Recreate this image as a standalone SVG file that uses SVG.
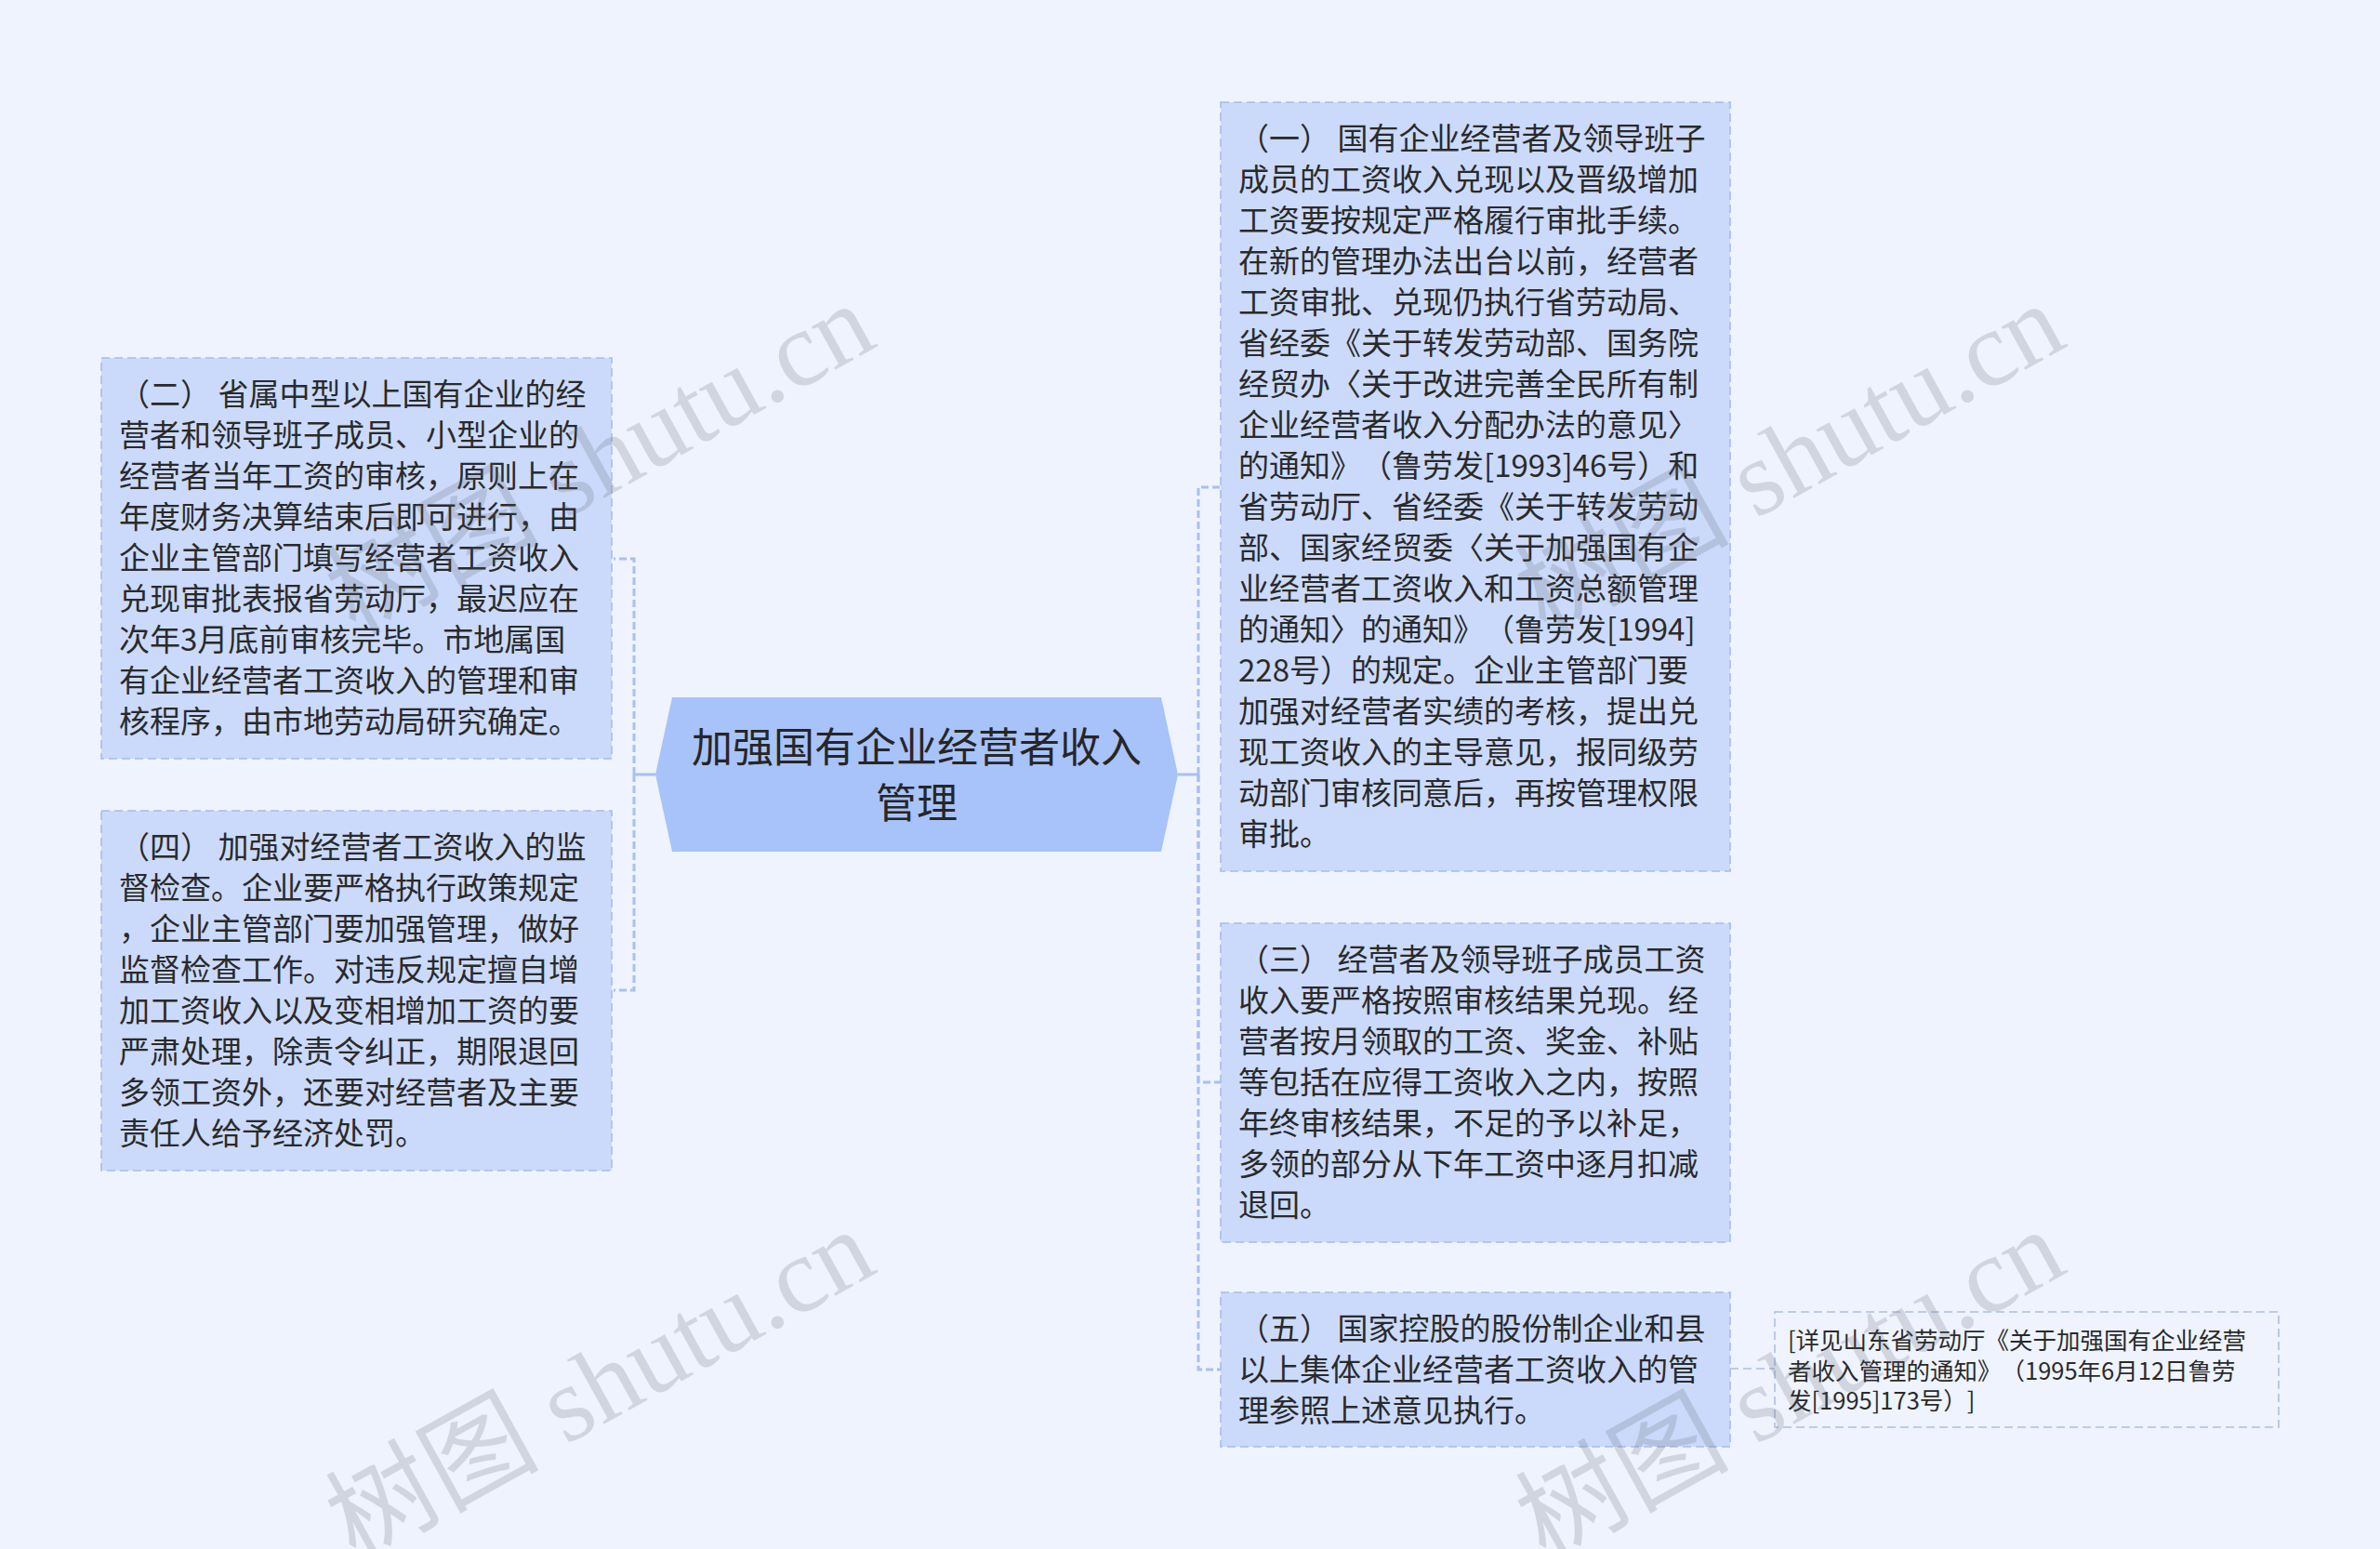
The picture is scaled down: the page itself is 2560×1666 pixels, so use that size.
<svg xmlns="http://www.w3.org/2000/svg" width="2560" height="1666" viewBox="0 0 2560 1666">
<style>
text{text-spacing-trim:space-all}
.bg{fill:#eef3fd}
.box{fill:#cbdafb;stroke:#a5bcef;stroke-width:1.6;stroke-dasharray:9 5}
.note{fill:none;stroke:#aebfe2;stroke-width:1.6;stroke-dasharray:9 5}
.t{font-family:"Noto Sans CJK SC","Noto Sans",sans-serif;font-size:33px;fill:#2a2a2a}
.nt{font-family:"Noto Sans CJK SC","Noto Sans",sans-serif;font-size:25.5px;fill:#2a2a2a}
.ct{font-family:"Noto Sans CJK SC","Noto Sans",sans-serif;font-size:44px;fill:#262626;text-anchor:middle}
.dash{fill:none;stroke:#a8c0f2;stroke-width:3;stroke-dasharray:8 4}
.solid{fill:none;stroke:#a8c0f2;stroke-width:3}
.thin{fill:none;stroke:#aebfe2;stroke-width:1.6;stroke-dasharray:9 5}
.wm{font-family:"Liberation Serif","Noto Sans CJK SC",serif;font-size:115px;fill:#5a5f6a;fill-opacity:0.2}
</style>
<rect class="bg" x="0" y="0" width="2560" height="1666"/>
<g id="connectors">
<path class="solid" d="M705 833 H682"/>
<path class="dash" d="M682 833 V601 H660"/>
<path class="dash" d="M682 833 V1065 H660"/>
<path class="solid" d="M1267 833 H1289"/>
<path class="dash" d="M1289 833 V524 H1313"/>
<path class="dash" d="M1289 833 V1164 H1313"/>
<path class="dash" d="M1289 833 V1473 H1313"/>
<path class="thin" d="M1861 1472 H1909"/>
</g>
<g id="center">
<polygon points="723,750 1249,750 1267,833 1249,916 723,916 705,833" fill="#a8c2fa"/>
<text class="ct"><tspan x="986" y="820">加强国有企业经营者收入</tspan><tspan x="986" y="880">管理</tspan></text>
</g>
<g id="node2">
<rect class="box" x="109" y="385" width="549" height="431"/>
<text class="t">
<tspan x="128" y="436">（二） 省属中型以上国有企业的经</tspan>
<tspan x="128" y="480">营者和领导班子成员、小型企业的</tspan>
<tspan x="128" y="524">经营者当年工资的审核，原则上在</tspan>
<tspan x="128" y="568">年度财务决算结束后即可进行，由</tspan>
<tspan x="128" y="612">企业主管部门填写经营者工资收入</tspan>
<tspan x="128" y="656">兑现审批表报省劳动厅，最迟应在</tspan>
<tspan x="128" y="700">次年3月底前审核完毕。市地属国</tspan>
<tspan x="128" y="744">有企业经营者工资收入的管理和审</tspan>
<tspan x="128" y="788">核程序，由市地劳动局研究确定。</tspan>
</text>
</g>
<g id="node4">
<rect class="box" x="109" y="872" width="549" height="387"/>
<text class="t">
<tspan x="128" y="923">（四） 加强对经营者工资收入的监</tspan>
<tspan x="128" y="967">督检查。企业要严格执行政策规定</tspan>
<tspan x="128" y="1011">，企业主管部门要加强管理，做好</tspan>
<tspan x="128" y="1055">监督检查工作。对违反规定擅自增</tspan>
<tspan x="128" y="1099">加工资收入以及变相增加工资的要</tspan>
<tspan x="128" y="1143">严肃处理，除责令纠正，期限退回</tspan>
<tspan x="128" y="1187">多领工资外，还要对经营者及主要</tspan>
<tspan x="128" y="1231">责任人给予经济处罚。</tspan>
</text>
</g>
<g id="node1">
<rect class="box" x="1313" y="110" width="548" height="827"/>
<text class="t">
<tspan x="1332" y="161">（一） 国有企业经营者及领导班子</tspan>
<tspan x="1332" y="205">成员的工资收入兑现以及晋级增加</tspan>
<tspan x="1332" y="249">工资要按规定严格履行审批手续。</tspan>
<tspan x="1332" y="293">在新的管理办法出台以前，经营者</tspan>
<tspan x="1332" y="337">工资审批、兑现仍执行省劳动局、</tspan>
<tspan x="1332" y="381">省经委《关于转发劳动部、国务院</tspan>
<tspan x="1332" y="425">经贸办〈关于改进完善全民所有制</tspan>
<tspan x="1332" y="469">企业经营者收入分配办法的意见〉</tspan>
<tspan x="1332" y="513">的通知》（鲁劳发[1993]46号）和</tspan>
<tspan x="1332" y="557">省劳动厅、省经委《关于转发劳动</tspan>
<tspan x="1332" y="601">部、国家经贸委〈关于加强国有企</tspan>
<tspan x="1332" y="645">业经营者工资收入和工资总额管理</tspan>
<tspan x="1332" y="689">的通知〉的通知》（鲁劳发[1994]</tspan>
<tspan x="1332" y="733">228号）的规定。企业主管部门要</tspan>
<tspan x="1332" y="777">加强对经营者实绩的考核，提出兑</tspan>
<tspan x="1332" y="821">现工资收入的主导意见，报同级劳</tspan>
<tspan x="1332" y="865">动部门审核同意后，再按管理权限</tspan>
<tspan x="1332" y="909">审批。</tspan>
</text>
</g>
<g id="node3">
<rect class="box" x="1313" y="993" width="548" height="343"/>
<text class="t">
<tspan x="1332" y="1044">（三） 经营者及领导班子成员工资</tspan>
<tspan x="1332" y="1088">收入要严格按照审核结果兑现。经</tspan>
<tspan x="1332" y="1132">营者按月领取的工资、奖金、补贴</tspan>
<tspan x="1332" y="1176">等包括在应得工资收入之内，按照</tspan>
<tspan x="1332" y="1220">年终审核结果，不足的予以补足，</tspan>
<tspan x="1332" y="1264">多领的部分从下年工资中逐月扣减</tspan>
<tspan x="1332" y="1308">退回。</tspan>
</text>
</g>
<g id="node5">
<rect class="box" x="1313" y="1390" width="548" height="166"/>
<text class="t">
<tspan x="1332" y="1441">（五） 国家控股的股份制企业和县</tspan>
<tspan x="1332" y="1485">以上集体企业经营者工资收入的管</tspan>
<tspan x="1332" y="1529">理参照上述意见执行。</tspan>
</text>
</g>
<g id="note5">
<rect class="note" x="1909" y="1411" width="542" height="124"/>
<text class="nt">
<tspan x="1923" y="1451">[详见山东省劳动厅《关于加强国有企业经营</tspan>
<tspan x="1923" y="1484">者收入管理的通知》（1995年6月12日鲁劳</tspan>
<tspan x="1923" y="1516">发[1995]173号）]</tspan>
</text>
</g>
<g id="watermarks">
<text class="wm" transform="translate(382 684) rotate(-29)">树图 shutu.cn</text>
<text class="wm" transform="translate(1662 684) rotate(-29)">树图 shutu.cn</text>
<text class="wm" transform="translate(382 1680) rotate(-29)">树图 shutu.cn</text>
<text class="wm" transform="translate(1662 1680) rotate(-29)">树图 shutu.cn</text>
</g>
</svg>
